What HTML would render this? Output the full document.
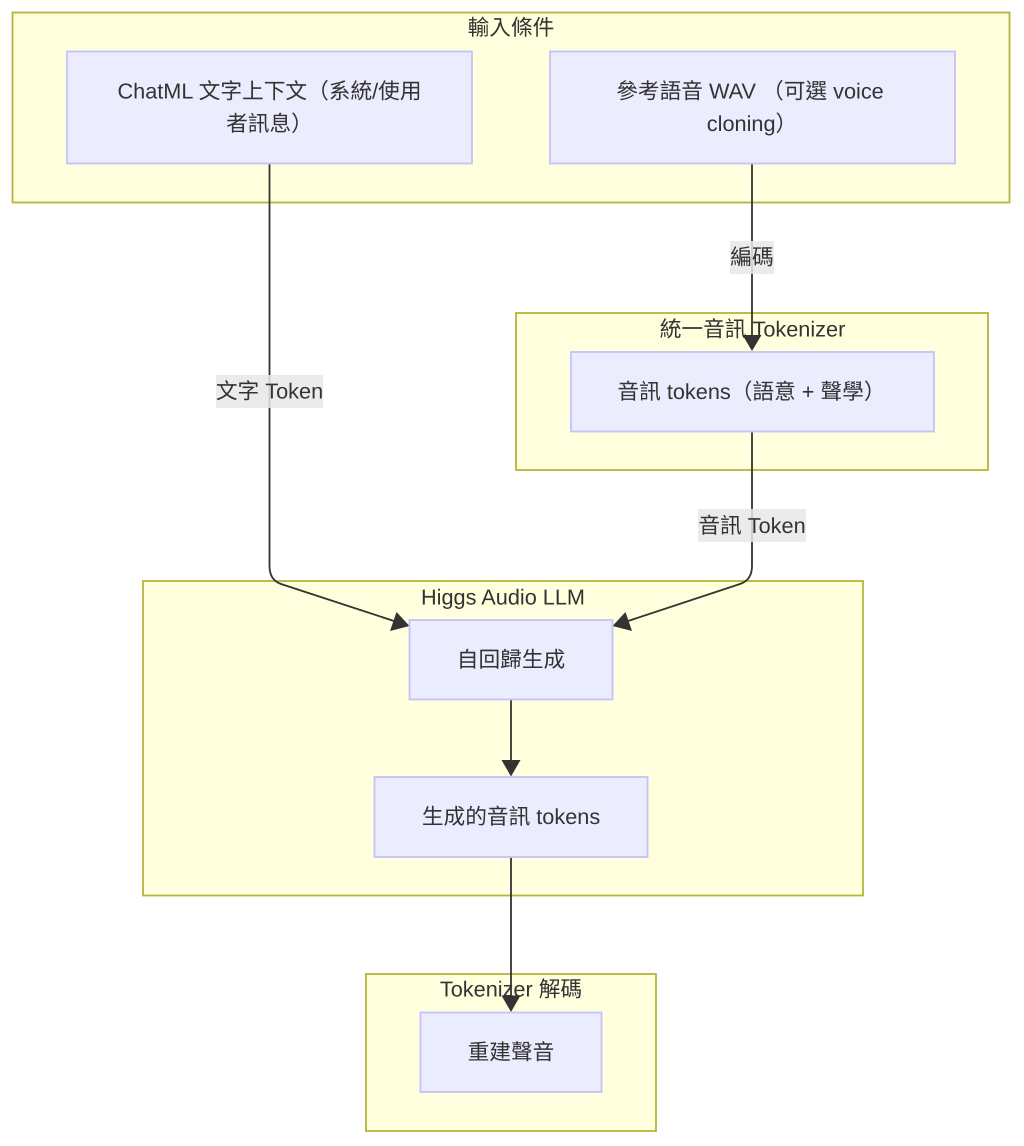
<!DOCTYPE html>
<html><head><meta charset="utf-8"><style>
html,body{margin:0;padding:0;background:#fff;width:1024px;height:1146px;overflow:hidden}
svg{display:block}
text{font-family:"Liberation Sans","Noto Sans CJK TC",sans-serif;font-size:21.7px;fill:#333;text-anchor:middle;text-rendering:geometricPrecision}
.c{fill:#ffffde;stroke:#b5b53c;stroke-width:1.8}
.n{fill:#ececff;stroke:#c4c2fb;stroke-width:1.8}
.e{fill:none;stroke:#333;stroke-width:1.8}
.l{fill:#e8e8e8;fill-opacity:.85}
.a{fill:#333}
</style></head><body>
<svg width="1024" height="1146" viewBox="0 0 1024 1146" xmlns="http://www.w3.org/2000/svg">
<rect class="c" x="12.5" y="12.5" width="997" height="190"/>
<rect class="c" x="516" y="313" width="472" height="157"/>
<rect class="c" x="143" y="581" width="720" height="314.500"/>
<rect class="c" x="366" y="974" width="290" height="157"/>
<text x="511" y="35">輸入條件</text>
<text x="752.500" y="336.500">統一音訊 Tokenizer</text>
<text x="503" y="604.500">Higgs Audio LLM</text>
<text x="511" y="996.500">Tokenizer 解碼</text>
<path class="e" d="M269.500 163V566Q269.500 580 281 584L397 622"/>
<path class="e" d="M752 163V337"/>
<path class="e" d="M752 431V566Q752 580 740 584L625 622"/>
<path class="e" d="M511 699V762"/>
<path class="e" d="M511 857V997"/>
<polygon class="a" points="752,351 742.500,335 761.500,335"/>
<polygon class="a" points="409.500,626 390,631 396.500,612"/>
<polygon class="a" points="612.500,626 632,631 625.500,612"/>
<polygon class="a" points="511,776.500 501.500,760 520.500,760"/>
<polygon class="a" points="511,1012 501.500,995.500 520.500,995.500"/>
<rect class="n" x="67" y="51.500" width="405" height="112"/>
<rect class="n" x="550" y="51.500" width="405" height="112"/>
<rect class="n" x="571" y="352" width="363" height="79.500"/>
<rect class="n" x="409.500" y="620" width="203" height="79.500"/>
<rect class="n" x="374.500" y="777" width="273" height="80"/>
<rect class="n" x="420.500" y="1012.500" width="181" height="79.500"/>
<text x="269.500" y="98.500">ChatML 文字上下文（系統/使用</text>
<text x="269.500" y="131">者訊息）</text>
<text x="750" y="98.500">參考語音 WAV （可選 voice</text>
<text x="752" y="131">cloning）</text>
<text x="751.500" y="399">音訊 tokens（語意 + 聲學）</text>
<text x="511" y="667">自回歸生成</text>
<text x="511" y="824">生成的音訊 tokens</text>
<text x="511" y="1059.500">重建聲音</text>
<rect class="l" x="730" y="241" width="44" height="33"/>
<rect class="l" x="216" y="375" width="107" height="33"/>
<rect class="l" x="698" y="509" width="108" height="33"/>
<text x="752" y="264.500">編碼</text>
<text x="269.500" y="398.500">文字 Token</text>
<text x="752" y="533">音訊 Token</text>
</svg>
</body></html>
